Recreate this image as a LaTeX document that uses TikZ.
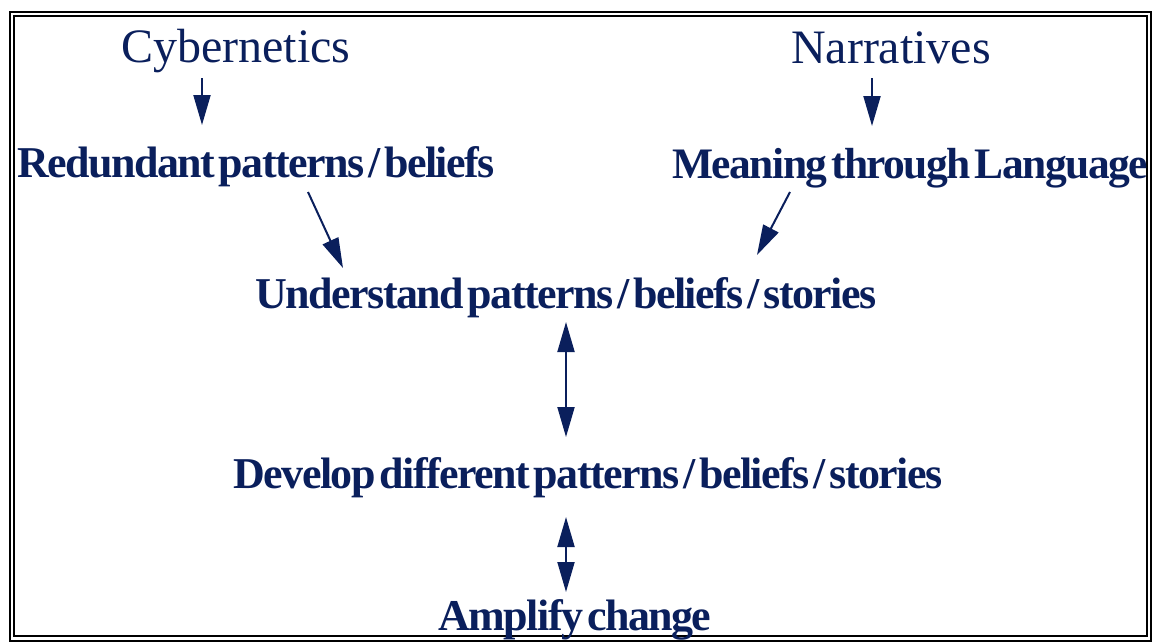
\documentclass[tikz,border=0pt]{standalone}
\usepackage{fontspec}
\setmainfont{Liberation Serif}
\newfontfamily\tightface[LetterSpace=-3.5,WordSpace=0.4]{Liberation Serif}
\usepackage{tikz}
\usetikzlibrary{arrows.meta}
\definecolor{navy}{HTML}{0A1F5C}
\tikzset{
    topic/.style={
           text=navy,
           anchor=base,
           inner sep=0pt,
           font=\fontsize{48}{52}\selectfont,
           },
    idea/.style={
           text=navy,
           anchor=base,
           inner sep=0pt,
           font=\tightface\bfseries\fontsize{44}{48}\selectfont,
           },
    link/.style={
           -{Triangle[length=30pt,width=17pt]},
           line width=2pt,
           draw=navy,
           },
    twoway/.style={
           {Triangle[length=30pt,width=17pt]}-{Triangle[length=30pt,width=17pt]},
           line width=2pt,
           draw=navy,
           },
}

\begin{document}
\begin{tikzpicture}[x=1pt,y=-1pt]

 \useasboundingbox (0,0) rectangle (1153,643);
 % frame
 \draw[line width=2pt] (10,12) rectangle (1151,641);
 \draw[line width=2pt] (14,16) rectangle (1147,636);

 \node[topic] (CYBER) at (236,62) {Cybernetics};
 \node[topic] (NARR) at (891,63) {Narratives};

 \node[idea] (REDUND) at (256,177) {Redundant patterns / beliefs};
 \node[idea, font=\tightface\bfseries\fontsize{43.5}{48}\selectfont] (MEANING) at (910,178)
   {Meaning through Language};

 \node[idea] (UNDER) at (566,308) {Understand patterns / beliefs / stories};
 \node[idea] (DEVELOP) at (588,488) {Develop different patterns / beliefs / stories};
 \node[idea] (AMPLIFY) at (575,630) {Amplify change};

 \draw[link] ([xshift=-34pt,yshift=-16pt]CYBER.base) -- ([xshift=-54pt,yshift=52pt]REDUND.base);
 \draw[link] ([xshift=-19pt,yshift=-15pt]NARR.base) -- ([xshift=-38pt,yshift=52pt]MEANING.base);
 \draw[link] ([xshift=52pt,yshift=-15pt]REDUND.base) -- ([xshift=-223pt,yshift=40pt]UNDER.base);
 \draw[link] ([xshift=-120pt,yshift=-14pt]MEANING.base) -- ([xshift=191pt,yshift=53pt]UNDER.base);
 \draw[twoway] ([yshift=-14pt]UNDER.base) -- ([xshift=-22pt,yshift=51pt]DEVELOP.base);
 \draw[twoway] ([xshift=-22pt,yshift=-29pt]DEVELOP.base) -- ([xshift=-9pt,yshift=38pt]AMPLIFY.base);
\end{tikzpicture}
\end{document}
